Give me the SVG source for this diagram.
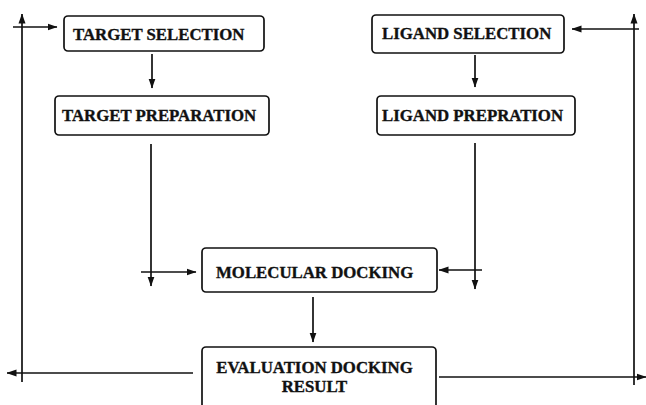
<svg xmlns="http://www.w3.org/2000/svg" width="646" height="405" viewBox="0 0 646 405">
  <defs>
    <marker id="arrow" markerWidth="10" markerHeight="8" refX="9.5" refY="4" orient="auto" markerUnits="userSpaceOnUse">
      <path d="M0,0.5 L10,4 L0,7.5 z" fill="#111"/>
    </marker>
    <style>
      .box { fill: #fff; stroke: #111; stroke-width: 1.7; }
      .lbl { font-family: "Liberation Serif", "Times New Roman", serif; font-weight: bold; font-size: 16.8px; fill: #111; stroke: #111; stroke-width: 0.35; }
      .ln { fill: none; stroke: #111; stroke-width: 1.7; }
      .arr { fill: none; stroke: #111; stroke-width: 1.7; marker-end: url(#arrow); }
    </style>
  </defs>
  <rect width="646" height="405" fill="#fff"/>

  <g id="connectors">
    <!-- selection to preparation -->
    <line class="arr" x1="152" y1="54" x2="152" y2="88"/>
    <line class="arr" x1="475" y1="55" x2="475" y2="87"/>
    <!-- preparation lines down to docking -->
    <line class="arr" x1="151" y1="144" x2="151" y2="286"/>
    <line class="arr" x1="141" y1="272" x2="196" y2="272"/>
    <line class="arr" x1="475" y1="143" x2="475" y2="289"/>
    <line class="arr" x1="482" y1="270" x2="439" y2="270"/>
    <!-- docking to evaluation -->
    <line class="arr" x1="313" y1="297" x2="313" y2="342"/>
    <!-- left feedback loop -->
    <line class="arr" x1="193" y1="373" x2="7" y2="373"/>
    <line class="arr" x1="22" y1="382" x2="22" y2="14"/>
    <line class="arr" x1="13" y1="27" x2="57" y2="27"/>
    <!-- right feedback loop -->
    <line class="arr" x1="439" y1="377" x2="646" y2="377"/>
    <line class="arr" x1="634" y1="385" x2="634" y2="14"/>
    <line class="arr" x1="639" y1="29" x2="572" y2="29"/>
  </g>

  <g id="target-selection">
    <rect class="box" x="64" y="16" width="200" height="35" rx="4"/>
    <text class="lbl" x="73" y="39.5">TARGET SELECTION</text>
  </g>
  <g id="target-preparation">
    <rect class="box" x="55" y="96" width="214" height="39" rx="4"/>
    <text class="lbl" x="62" y="121">TARGET PREPARATION</text>
  </g>
  <g id="ligand-selection">
    <rect class="box" x="372" y="15" width="192" height="38" rx="4"/>
    <text class="lbl" x="382" y="38.5">LIGAND SELECTION</text>
  </g>
  <g id="ligand-prepration">
    <rect class="box" x="377" y="96" width="198" height="39" rx="4"/>
    <text class="lbl" x="382" y="121">LIGAND PREPRATION</text>
  </g>
  <g id="molecular-docking">
    <rect class="box" x="202" y="248" width="235" height="44" rx="4"/>
    <text class="lbl" x="216" y="278">MOLECULAR DOCKING</text>
  </g>
  <g id="evaluation-docking-result">
    <rect class="box" x="202" y="347" width="234" height="70" rx="4"/>
    <text class="lbl" x="314.5" y="373" text-anchor="middle">EVALUATION DOCKING</text>
    <text class="lbl" x="314.5" y="392" text-anchor="middle">RESULT</text>
  </g>
</svg>
